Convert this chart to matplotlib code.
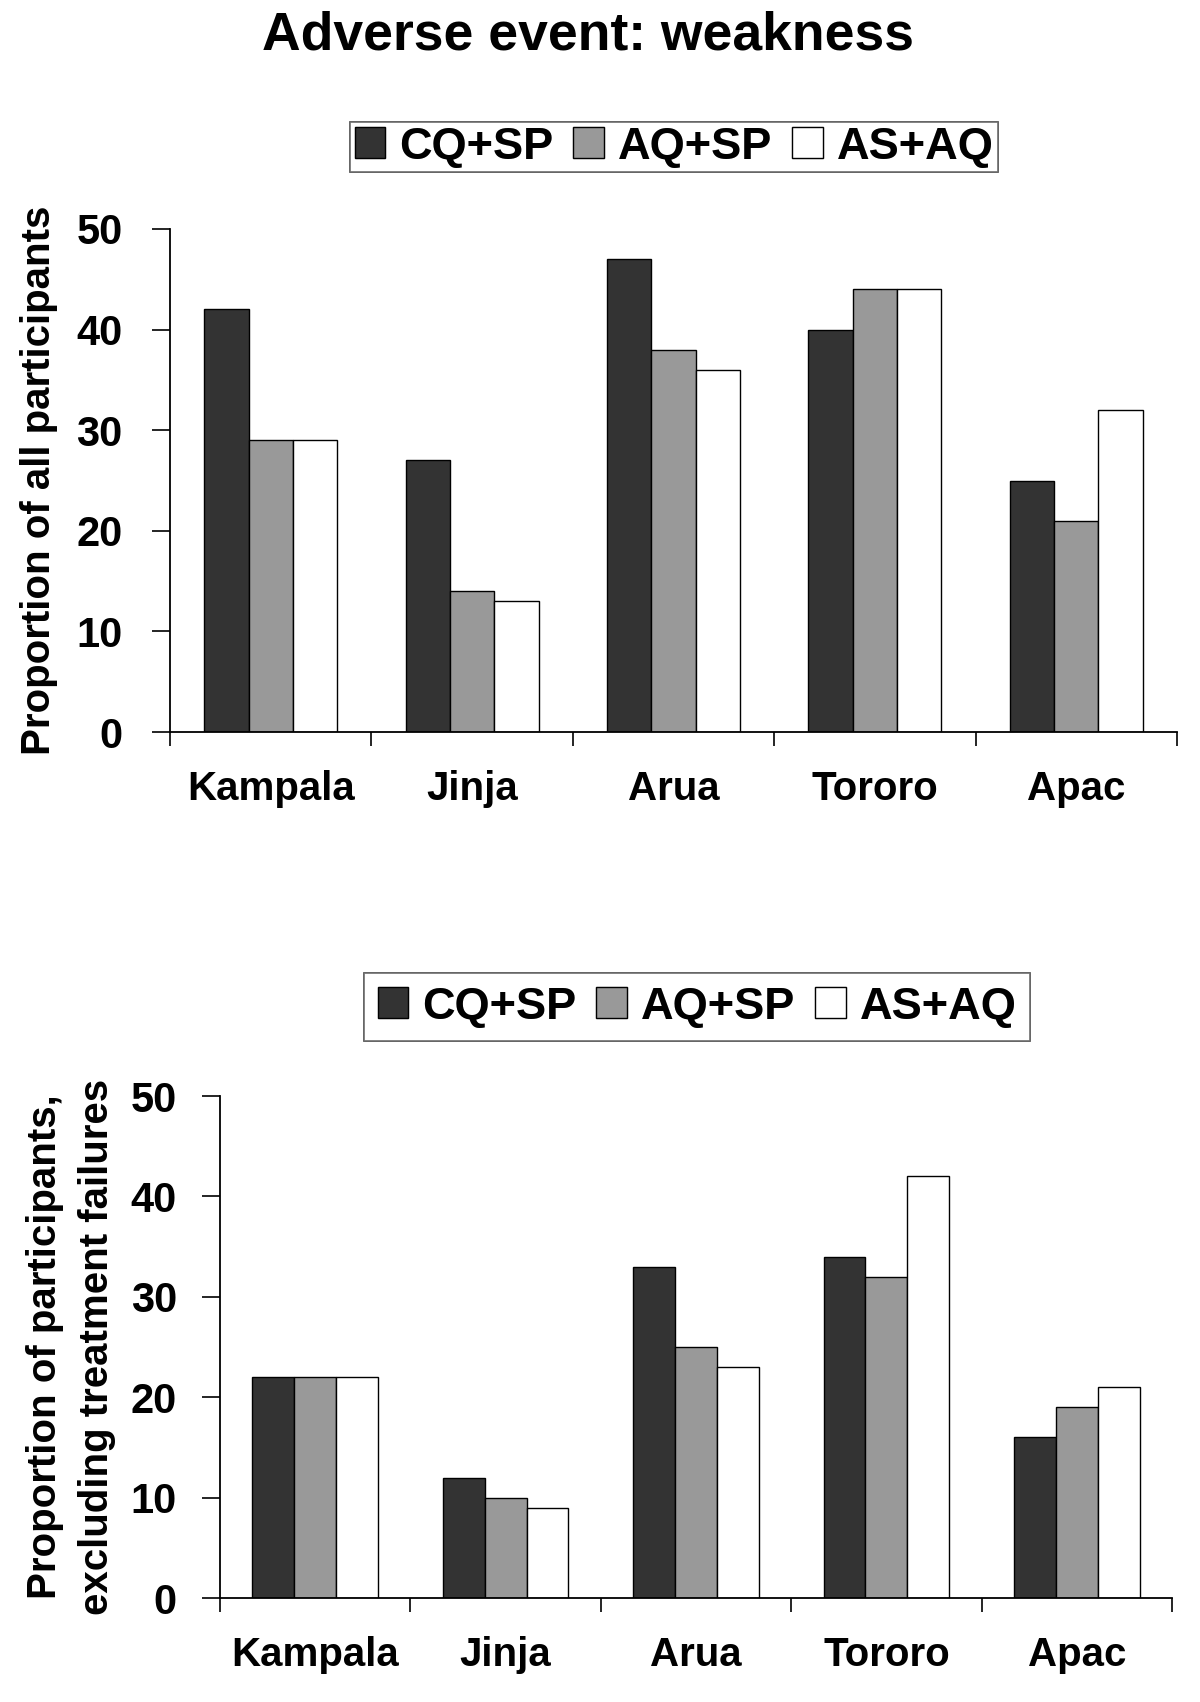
import numpy as np
import matplotlib
matplotlib.use("Agg")
import matplotlib.pyplot as plt
import matplotlib.patches as mpatches

plt.rcParams["font.family"] = ["Liberation Sans", "DejaVu Sans"]
plt.rcParams["font.weight"] = "bold"

# ── 数据 ──────────────────────────────────────────────────────────────
sites = ["Kampala", "Jinja", "Arua", "Tororo", "Apac"]
regimens = ["CQ+SP", "AQ+SP", "AS+AQ"]

all_cq_sp = [42, 27, 47, 40, 25]
all_aq_sp = [29, 14, 38, 44, 21]
all_as_aq = [29, 13, 36, 44, 32]

excl_cq_sp = [22, 12, 33, 34, 16]
excl_aq_sp = [22, 10, 25, 32, 19]
excl_as_aq = [22, 9, 23, 42, 21]

colors = ["#333333", "#999999", "#ffffff"]

W, H = 1200, 1702
fig = plt.figure(figsize=(W / 100, H / 100), dpi=100)


def draw_panel(rect, series, ylabel, label_x, ypad):
    ax = fig.add_axes(rect)
    x = np.arange(len(sites))
    bw = 0.22
    for i, (vals, c) in enumerate(zip(series, colors)):
        ax.bar(x + (i - 1) * bw, vals, width=bw, color=c,
               edgecolor="black", linewidth=1.0, zorder=2)
    ax.set_xlim(-0.5, len(sites) - 0.5)
    ax.set_ylim(0, 50)
    ax.set_yticks([0, 10, 20, 30, 40, 50])
    ax.set_xticks(x)
    ax.set_xticklabels(sites, fontsize=29, fontweight="bold")
    ax.set_xticks(np.arange(-0.5, len(sites)), minor=True)
    ax.tick_params(axis="x", which="major", length=0, pad=27)
    ax.tick_params(axis="x", which="minor", length=10, width=1.2, direction="out")
    ax.tick_params(axis="y", length=13, width=1.2, pad=ypad, labelsize=30)
    for lbl in ax.get_yticklabels():
        lbl.set_fontweight("bold")
    for s in ["top", "right"]:
        ax.spines[s].set_visible(False)
    for s in ["left", "bottom"]:
        ax.spines[s].set_linewidth(1.3)
    ax.set_ylabel(ylabel, fontsize=29, fontweight="bold",
                  va="center", linespacing=1.45)
    ax.yaxis.set_label_coords(label_x, 0.5)
    return ax


# ── 上图：所有参与者 ──────────────────────────────────────────────────
ax1 = draw_panel([170 / W, 1 - 732 / H, (1177 - 170) / W, (732 - 229) / H],
                 [all_cq_sp, all_aq_sp, all_as_aq],
                 "Proportion of all participants",
                 (39 - 170) / (1177 - 170), 21)

# ── 下图：排除治疗失败 ────────────────────────────────────────────────
ax2 = draw_panel([220 / W, 1 - 1598 / H, (1172 - 220) / W, (1598 - 1096) / H],
                 [excl_cq_sp, excl_aq_sp, excl_as_aq],
                 "Proportion of participants,\nexcluding treatment failures",
                 (71 - 220) / (1172 - 220), 18)

fig.text(588 / W, 1 - 50 / H, "Adverse event: weakness",
         ha="center", va="baseline", fontsize=38.5, fontweight="bold")

handles = [mpatches.Patch(facecolor=c, edgecolor="black", linewidth=1.0, label=r)
           for c, r in zip(colors, regimens)]

for cx, cy, bp in [(674 / W, 1 - 147 / H, 0.1), (697 / W, 1 - 1007 / H, 0.3)]:
    leg = fig.legend(handles=handles, loc="center", bbox_to_anchor=(cx, cy),
                     ncol=3, frameon=True, fancybox=False,
                     edgecolor="#555555", handlelength=0.68, handleheight=0.68,
                     handletextpad=0.3, columnspacing=0.45, borderpad=bp,
                     borderaxespad=0, prop={"weight": "bold", "size": 32.5})
    leg.get_frame().set_linewidth(1.2)
    fig.add_artist(leg)

plt.savefig("out.png", dpi=100)
plt.close()
